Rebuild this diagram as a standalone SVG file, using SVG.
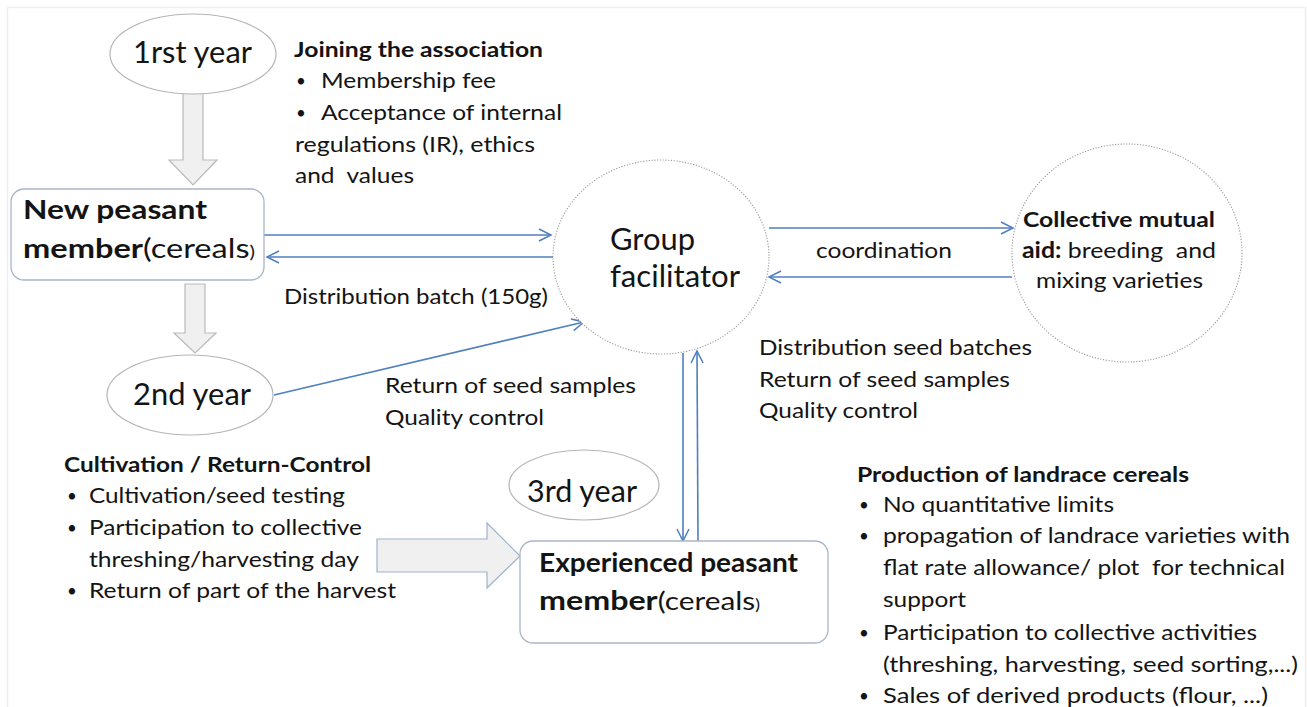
<svg xmlns="http://www.w3.org/2000/svg" width="1307" height="707" viewBox="0 0 1307 707" xml:space="preserve">
<defs>
<marker id="ah" markerUnits="userSpaceOnUse" markerWidth="16" markerHeight="16" viewBox="0 0 16 16" refX="14" refY="8" orient="auto">
<path d="M2,2 L14,8 L2,14" fill="none" stroke="#4f7fbf" stroke-width="1.5"/>
</marker>
<style>
text{font-family:Lato,"Liberation Sans",sans-serif;fill:#141414;white-space:pre}
.big{font-size:30px}
.bb{font-size:27px;font-weight:bold}
.t{font-size:22px}
.bu{font-size:17px}
.h{font-size:21px;font-weight:bold}
.b{font-weight:bold}
.yr{fill:#fff;stroke:#b5b5b5;stroke-width:1.2}
.box{fill:#fff;stroke:#a9b6c8;stroke-width:1.3}
.dot{fill:#fff;stroke:#9a9a9a;stroke-width:1.1;stroke-dasharray:1.2 1.6}
.blk{fill:#f0f0f0;stroke:#b9b9b9;stroke-width:1.2}
.con{stroke:#4f7fbf;stroke-width:1.6;fill:none;marker-end:url(#ah)}
</style>
</defs>
<rect x="0" y="0" width="1307" height="707" fill="#fff"/>
<rect x="7.5" y="7.5" width="1298" height="720" fill="none" stroke="#efefef" stroke-width="1.5"/>
<g id="arrow-1to-new"><polygon class="blk" points="183,89 203,89 203,160 217,160 193,185 169,160 183,160"/></g>
<g id="arrow-new-to-2nd"><polygon class="blk" points="185,284 205,284 205,333 216,333 195,353 174,333 185,333"/></g>
<g id="arrow-to-experienced"><polygon points="377,539 487,539 487,523 520,556 487,588 487,572 377,572" fill="#f0f0f0" stroke="#9fb2cc" stroke-width="1.2"/></g>
<g id="connectors">
<line class="con" x1="264" y1="235" x2="551" y2="235"/>
<line class="con" x1="553" y1="257" x2="267" y2="257"/>
<line class="con" x1="274" y1="395" x2="584" y2="322"/>
<line class="con" x1="769" y1="228" x2="1013" y2="228"/>
<line class="con" x1="1012" y1="277" x2="769" y2="277"/>
<line class="con" x1="683" y1="353" x2="683" y2="541"/>
<line class="con" x1="698" y1="542" x2="697" y2="351"/>
</g>
<g id="year1">
<ellipse class="yr" cx="193" cy="54" rx="83" ry="40"/>
<text class="big" x="133" y="63" textLength="119" lengthAdjust="spacingAndGlyphs">1rst year</text>
</g>
<g id="joining">
<text class="h" x="294" y="57" textLength="249" lengthAdjust="spacingAndGlyphs">Joining the association</text>
<text class="bu" x="296" y="87">•</text>
<text class="t" x="321" y="88" textLength="175" lengthAdjust="spacingAndGlyphs">Membership fee</text>
<text class="bu" x="296" y="119">•</text>
<text class="t" x="321" y="120" textLength="241" lengthAdjust="spacingAndGlyphs">Acceptance of internal</text>
<text class="t" x="295" y="152" textLength="240" lengthAdjust="spacingAndGlyphs">regulations (IR), ethics</text>
<text class="t" x="295" y="183" textLength="119" lengthAdjust="spacingAndGlyphs">and  values</text>
</g>
<g id="new-member">
<rect class="box" x="11" y="189" width="253" height="91" rx="13"/>
<text class="bb" x="23" y="219" textLength="184" lengthAdjust="spacingAndGlyphs">New peasant</text>
<text x="23" y="258" textLength="232" lengthAdjust="spacingAndGlyphs"><tspan class="bb">member</tspan><tspan font-size="27px">(cereals</tspan><tspan font-size="17px">)</tspan></text>
</g>
<text class="t" x="284" y="304" textLength="264" lengthAdjust="spacingAndGlyphs">Distribution batch (150g)</text>
<g id="facilitator">
<ellipse class="dot" cx="661" cy="257" rx="108" ry="97"/>
<text class="big" x="610" y="250" font-size="31px" textLength="85" lengthAdjust="spacingAndGlyphs">Group</text>
<text class="big" x="610" y="287" font-size="31px" textLength="130" lengthAdjust="spacingAndGlyphs">facilitator</text>
</g>
<text class="t" x="816" y="258" textLength="136" lengthAdjust="spacingAndGlyphs">coordination</text>
<g id="collective">
<ellipse class="dot" cx="1127" cy="253" rx="115" ry="109"/>
<text class="h" x="1023" y="227" textLength="192" lengthAdjust="spacingAndGlyphs">Collective mutual</text>
<text class="t" x="1022" y="258" textLength="194" lengthAdjust="spacingAndGlyphs"><tspan class="b">aid:</tspan> breeding  and</text>
<text class="t" x="1036" y="288" textLength="167" lengthAdjust="spacingAndGlyphs">mixing varieties</text>
</g>
<g id="year2">
<ellipse class="yr" cx="190" cy="395" rx="83" ry="40"/>
<text class="big" x="133" y="405" textLength="118" lengthAdjust="spacingAndGlyphs">2nd year</text>
</g>
<text class="t" x="385" y="393" textLength="251" lengthAdjust="spacingAndGlyphs">Return of seed samples</text>
<text class="t" x="385" y="425" textLength="159" lengthAdjust="spacingAndGlyphs">Quality control</text>
<text class="t" x="759" y="355" textLength="273" lengthAdjust="spacingAndGlyphs">Distribution seed batches</text>
<text class="t" x="759" y="387" textLength="251" lengthAdjust="spacingAndGlyphs">Return of seed samples</text>
<text class="t" x="759" y="418" textLength="159" lengthAdjust="spacingAndGlyphs">Quality control</text>
<g id="cultivation">
<text class="h" x="64" y="472" font-size="20px" textLength="307" lengthAdjust="spacingAndGlyphs">Cultivation / Return-Control</text>
<text class="bu" x="67" y="502">•</text>
<text class="t" x="89" y="503" textLength="256" lengthAdjust="spacingAndGlyphs">Cultivation/seed testing</text>
<text class="bu" x="67" y="534">•</text>
<text class="t" x="89" y="535" textLength="273" lengthAdjust="spacingAndGlyphs">Participation to collective</text>
<text class="t" x="89" y="567" textLength="270" lengthAdjust="spacingAndGlyphs">threshing/harvesting day</text>
<text class="bu" x="67" y="597">•</text>
<text class="t" x="89" y="598" textLength="307" lengthAdjust="spacingAndGlyphs">Return of part of the harvest</text>
</g>
<g id="year3">
<ellipse class="yr" cx="584" cy="485" rx="75" ry="35"/>
<text class="big" x="527" y="502" textLength="110" lengthAdjust="spacingAndGlyphs">3rd year</text>
</g>
<g id="experienced">
<rect class="box" x="520" y="541" width="308" height="102" rx="13"/>
<text class="bb" x="539" y="572" font-size="25px" textLength="259" lengthAdjust="spacingAndGlyphs">Experienced peasant</text>
<text x="539" y="610" textLength="221" lengthAdjust="spacingAndGlyphs"><tspan class="bb" font-size="25px">member</tspan><tspan font-size="25px">(cereals</tspan><tspan font-size="15px">)</tspan></text>
</g>
<g id="production">
<text class="h" x="857" y="482" textLength="332" lengthAdjust="spacingAndGlyphs">Production of landrace cereals</text>
<text class="bu" x="859" y="511">•</text>
<text class="t" x="883" y="512" textLength="231" lengthAdjust="spacingAndGlyphs">No quantitative limits</text>
<text class="bu" x="859" y="542">•</text>
<text class="t" x="883" y="543" textLength="407" lengthAdjust="spacingAndGlyphs">propagation of landrace varieties with</text>
<text class="t" x="883" y="575" textLength="402" lengthAdjust="spacingAndGlyphs">flat rate allowance/ plot  for technical</text>
<text class="t" x="883" y="607" textLength="83" lengthAdjust="spacingAndGlyphs">support</text>
<text class="bu" x="859" y="639">•</text>
<text class="t" x="883" y="640" textLength="374" lengthAdjust="spacingAndGlyphs">Participation to collective activities</text>
<text class="t" x="883" y="672" textLength="415" lengthAdjust="spacingAndGlyphs">(threshing, harvesting, seed sorting,...)</text>
<text class="bu" x="859" y="702">•</text>
<text class="t" x="883" y="703" textLength="385" lengthAdjust="spacingAndGlyphs">Sales of derived products (flour, ...)</text>
</g>
</svg>
